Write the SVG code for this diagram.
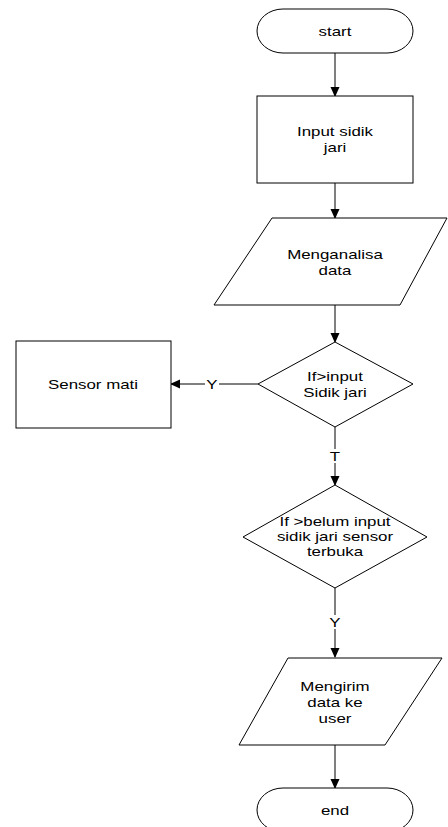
<svg xmlns="http://www.w3.org/2000/svg" width="448" height="827" viewBox="0 0 448 827">
<defs>
<marker id="ah" markerWidth="10" markerHeight="10" refX="9" refY="5" orient="auto" markerUnits="userSpaceOnUse">
<path d="M0,0.5 L10,5 L0,9.5 Z" fill="#000"/>
</marker>
<style>
.s{fill:#fff;stroke:#000;stroke-width:1}
.c{fill:none;stroke:#000;stroke-width:1}
text{font-family:"Liberation Sans",Arial,sans-serif;font-size:13.5px;fill:#000;text-anchor:middle}
.lb{fill:#fff}
</style>
</defs>
<rect width="448" height="827" fill="#fff"/>
<g id="connectors">
<line class="c" x1="335" y1="53" x2="335" y2="96" marker-end="url(#ah)"/>
<line class="c" x1="335" y1="183" x2="335" y2="218" marker-end="url(#ah)"/>
<line class="c" x1="335" y1="305" x2="335" y2="342" marker-end="url(#ah)"/>
<line class="c" x1="258" y1="384" x2="171" y2="384" marker-end="url(#ah)"/>
<line class="c" x1="335" y1="427" x2="335" y2="485" marker-end="url(#ah)"/>
<line class="c" x1="335" y1="588" x2="335" y2="657" marker-end="url(#ah)"/>
<line class="c" x1="335" y1="745" x2="335" y2="788" marker-end="url(#ah)"/>
<rect class="lb" x="205" y="377" width="14" height="14"/>
<text transform="translate(212,389) scale(1.25,1)">Y</text>
<rect class="lb" x="328" y="449" width="14" height="14"/>
<text transform="translate(335,461) scale(1.25,1)">T</text>
<rect class="lb" x="328" y="615" width="14" height="14"/>
<text transform="translate(335,627) scale(1.25,1)">Y</text>
</g>
<g id="start">
<rect class="s" x="257" y="9" width="156" height="44" rx="26" ry="22"/>
<text transform="translate(335,36) scale(1.25,1)">start</text>
</g>
<g id="input">
<rect class="s" x="257" y="96" width="156" height="87"/>
<text transform="translate(335,136) scale(1.25,1)">Input sidik</text>
<text transform="translate(335,152) scale(1.25,1)">jari</text>
</g>
<g id="analisa">
<polygon class="s" points="272,218 447,218 400,305 214,305"/>
<text transform="translate(335,259) scale(1.25,1)">Menganalisa</text>
<text transform="translate(335,275) scale(1.25,1)">data</text>
</g>
<g id="if1">
<polygon class="s" points="335,342 413,384 335,427 258,384"/>
<text transform="translate(335,381) scale(1.25,1)">If&gt;input</text>
<text transform="translate(335,397) scale(1.25,1)">Sidik jari</text>
</g>
<g id="sensor">
<rect class="s" x="16" y="341" width="155" height="87"/>
<text transform="translate(93,389) scale(1.25,1)">Sensor mati</text>
</g>
<g id="if2">
<polygon class="s" points="335,485 427,537 335,588 243,537"/>
<text transform="translate(335,526) scale(1.25,1)">If &gt;belum input</text>
<text transform="translate(335,541) scale(1.25,1)">sidik jari sensor</text>
<text transform="translate(335,556) scale(1.25,1)">terbuka</text>
</g>
<g id="kirim">
<polygon class="s" points="288,658 442,658 385,745 239,745"/>
<text transform="translate(335,691) scale(1.25,1)">Mengirim</text>
<text transform="translate(335,707) scale(1.25,1)">data ke</text>
<text transform="translate(335,723) scale(1.25,1)">user</text>
</g>
<g id="end">
<rect class="s" x="257" y="788" width="156" height="44" rx="26" ry="22"/>
<text transform="translate(335,815) scale(1.25,1)">end</text>
</g>
</svg>
